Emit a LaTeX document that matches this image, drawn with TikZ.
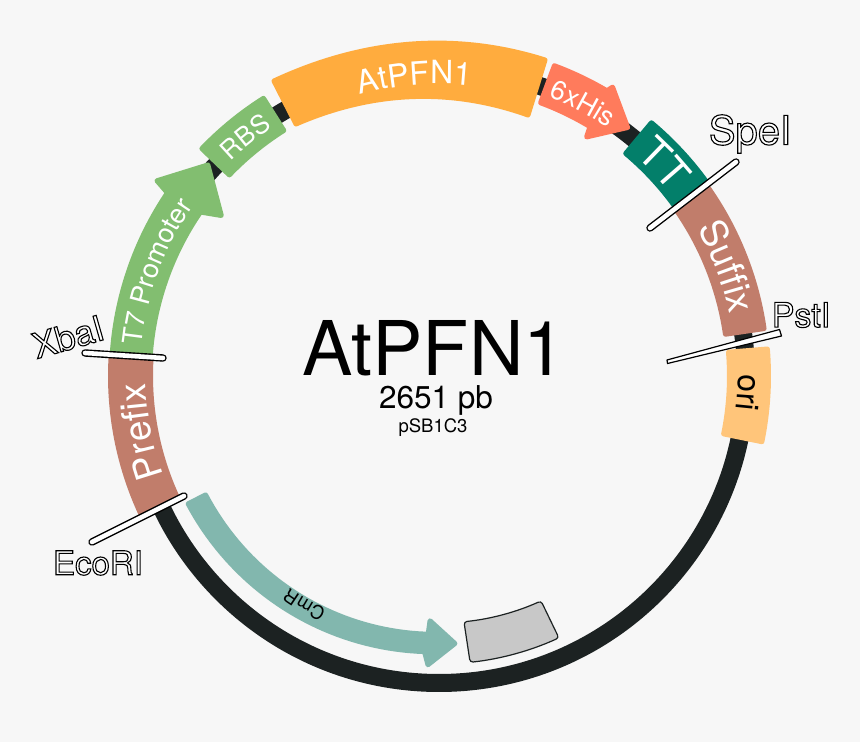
\documentclass[tikz,border=0pt]{standalone}
\usepackage{fontspec}
\setmainfont{TeX Gyre Heros}
\usetikzlibrary{decorations.text}
\definecolor{bgc}{HTML}{F7F7F7}
\definecolor{ringc}{HTML}{1C2222}
\definecolor{greenc}{HTML}{82BE70}
\definecolor{brickc}{HTML}{C17D6B}
\definecolor{orangec}{HTML}{FFAC3E}
\definecolor{salmonc}{HTML}{FF7B5C}
\definecolor{tealc}{HTML}{037F6A}
\definecolor{oric}{HTML}{FFC57A}
\definecolor{cmrc}{HTML}{82B7AE}
\definecolor{grayc}{HTML}{C8C8C8}
\tikzset{
  blob/.style={line width=5pt,line join=round,draw=#1,fill=#1},
  cutblack/.style={line width=7.4pt,line cap=round,draw=black},
  cutwhite/.style={line width=4.6pt,line cap=round,draw=white},
  sitelabel/.style={inner sep=0pt,anchor=center},
  bigtext/.style={inner sep=0pt,anchor=base,text=black}
}
\newcommand\seg[5]{% from angle, to angle (clockwise), r in, r out, colour
  \path[blob=#5] ({#1-0.5}:{#4-2.5}) arc[start angle={#1-0.5},end angle={#2+0.5},radius={#4-2.5}]
    -- ({#2+0.5}:{#3+2.5}) arc[start angle={#2+0.5},end angle={#1-0.5},radius={#3+2.5}] -- cycle;}
\newcommand\lab[5]{% centre angle, baseline radius, size, colour, text
  \def\curfmt{\fontsize{#3}{#3}\selectfont\color{#4}}
  \path[decorate,decoration={text along path,text={|\curfmt|#5},text align=center}]
    ({#1+60}:#2) arc[start angle={#1+60},end angle={#1-60},radius=#2];}
\newcommand\outl[1]{{\color{white}\special{pdf:code 0 0 0 RG 2 Tr 1.1 w}#1\special{pdf:code 0 Tr}}}
\begin{document}
\begin{tikzpicture}[x=1pt,y=1pt]
\useasboundingbox (0,0) rectangle (860,742);
\fill[bgc] (0,0) rectangle (860,742);
\begin{scope}[shift={(439,366)}]
  % backbone
  \draw[ringc,line width=18pt] (0,0) circle[radius=307];
  % features
  \path[blob=greenc] (176.3:327.5) arc[start angle=176.3,end angle=146,radius=327.5]
     -- (145.3:343) -- (137.6:313) -- (143.6:270.5) -- (145.5:289.5)
     arc[start angle=145.5,end angle=176.3,radius=289.5] -- cycle;
  \seg{136.7}{121.8}{288}{331}{greenc}
  \path[blob=salmonc] (69.6:331) arc[start angle=69.6,end angle=59.5,radius=331]
     -- (59:337) -- (52.8:312) -- (58.3:281) -- (58.8:291.5)
     arc[start angle=58.8,end angle=69.6,radius=291.5] -- cycle;
  \seg{50.5}{35.5}{288}{333}{tealc}
  \seg{35.5}{7.8}{287}{331}{brickc}
  \seg{5.2}{-12}{288}{332}{oric}
  \seg{205.4}{176.3}{286}{331}{brickc}
  % CmR arrow
  \path[blob=cmrc] plot[domain=207:267,samples=40] ({\x}:{281.5-(\x-207)*5.5/60})
     -- (267.8:289) -- (273.4:268) -- (267.9:245) -- (267.6:258.5)
     -- plot[domain=267:207,samples=40] ({\x}:{262-(\x-207)*3.5/60}) -- cycle;
  % unnamed grey feature
  \draw[draw=ringc,fill=grayc,line width=1.2pt,rounded corners=3pt]
     (275.8:247) arc[start angle=275.8,end angle=294.4,radius=247]
     -- (294.6:288) arc[start angle=294.6,end angle=276.2,radius=288] -- cycle;
\end{scope}
% AtPFN1 feature
\path[blob=orangec] (274,661) .. controls (363,702.5) and (455,710.5) .. (545,682)
   -- (528,627) .. controls (451,654.5) and (373,651.5) .. (296,618) -- cycle;
\begin{scope}[shift={(439,366)}]
  % curved labels
  \lab{159.7}{299}{27}{white}{T7 Promoter}
  \lab{129}{299}{26}{white}{RBS}
  \lab{94.7}{292}{32}{white}{AtPFN1}
  \lab{62.2}{300}{27}{white}{6xHis}
  \lab{43.3}{295}{42}{white}{TT}
  \lab{20.8}{297}{37}{white}{Suffix}
  \lab{190.6}{293}{37}{white}{Prefix}
  \lab{-3.1}{299}{32}{black}{ori}
  \lab{239.5}{259}{19}{black}{CmR}
\end{scope}
% restriction site marks
\coordinate (xa) at (85,389);  \coordinate (xb) at (163,384);
\coordinate (ea) at (92,200);  \coordinate (eb) at (184,246);
\coordinate (sa) at (650,514); \coordinate (sb) at (736,580);
\foreach \a/\b in {xa/xb,ea/eb,sa/sb}{
  \draw[cutblack] (\a) -- (\b);
  \draw[cutwhite] (\a) -- (\b);
}
\path[draw=black,fill=white,line width=1.2pt,line join=round]
  (667,382) -- (779.5,412.5) -- (781.5,406) -- (667.5,378.5) -- cycle;
% site names
\node[sitelabel,rotate=16] (xbaI) at (68,405) {\fontsize{35}{35}\selectfont\outl{XbaI}};
\node[sitelabel] (ecoRI) at (98,179) {\fontsize{33}{33}\selectfont\outl{EcoRI}};
\node[sitelabel] (speI) at (750,608) {\fontsize{40}{40}\selectfont\outl{SpeI}};
\node[sitelabel] (pstI) at (801,427) {\fontsize{34}{34}\selectfont\outl{PstI}};
% title
\node[bigtext] (name) at (434,366) {\fontsize{75.5}{76}\selectfont AtPFN1};
\node[bigtext] (size) at (436,333) {\fontsize{31.5}{32}\selectfont 2651 pb};
\node[bigtext] (vec) at (433,309) {\fontsize{18.5}{19}\selectfont pSB1C3};
\end{tikzpicture}
\end{document}
